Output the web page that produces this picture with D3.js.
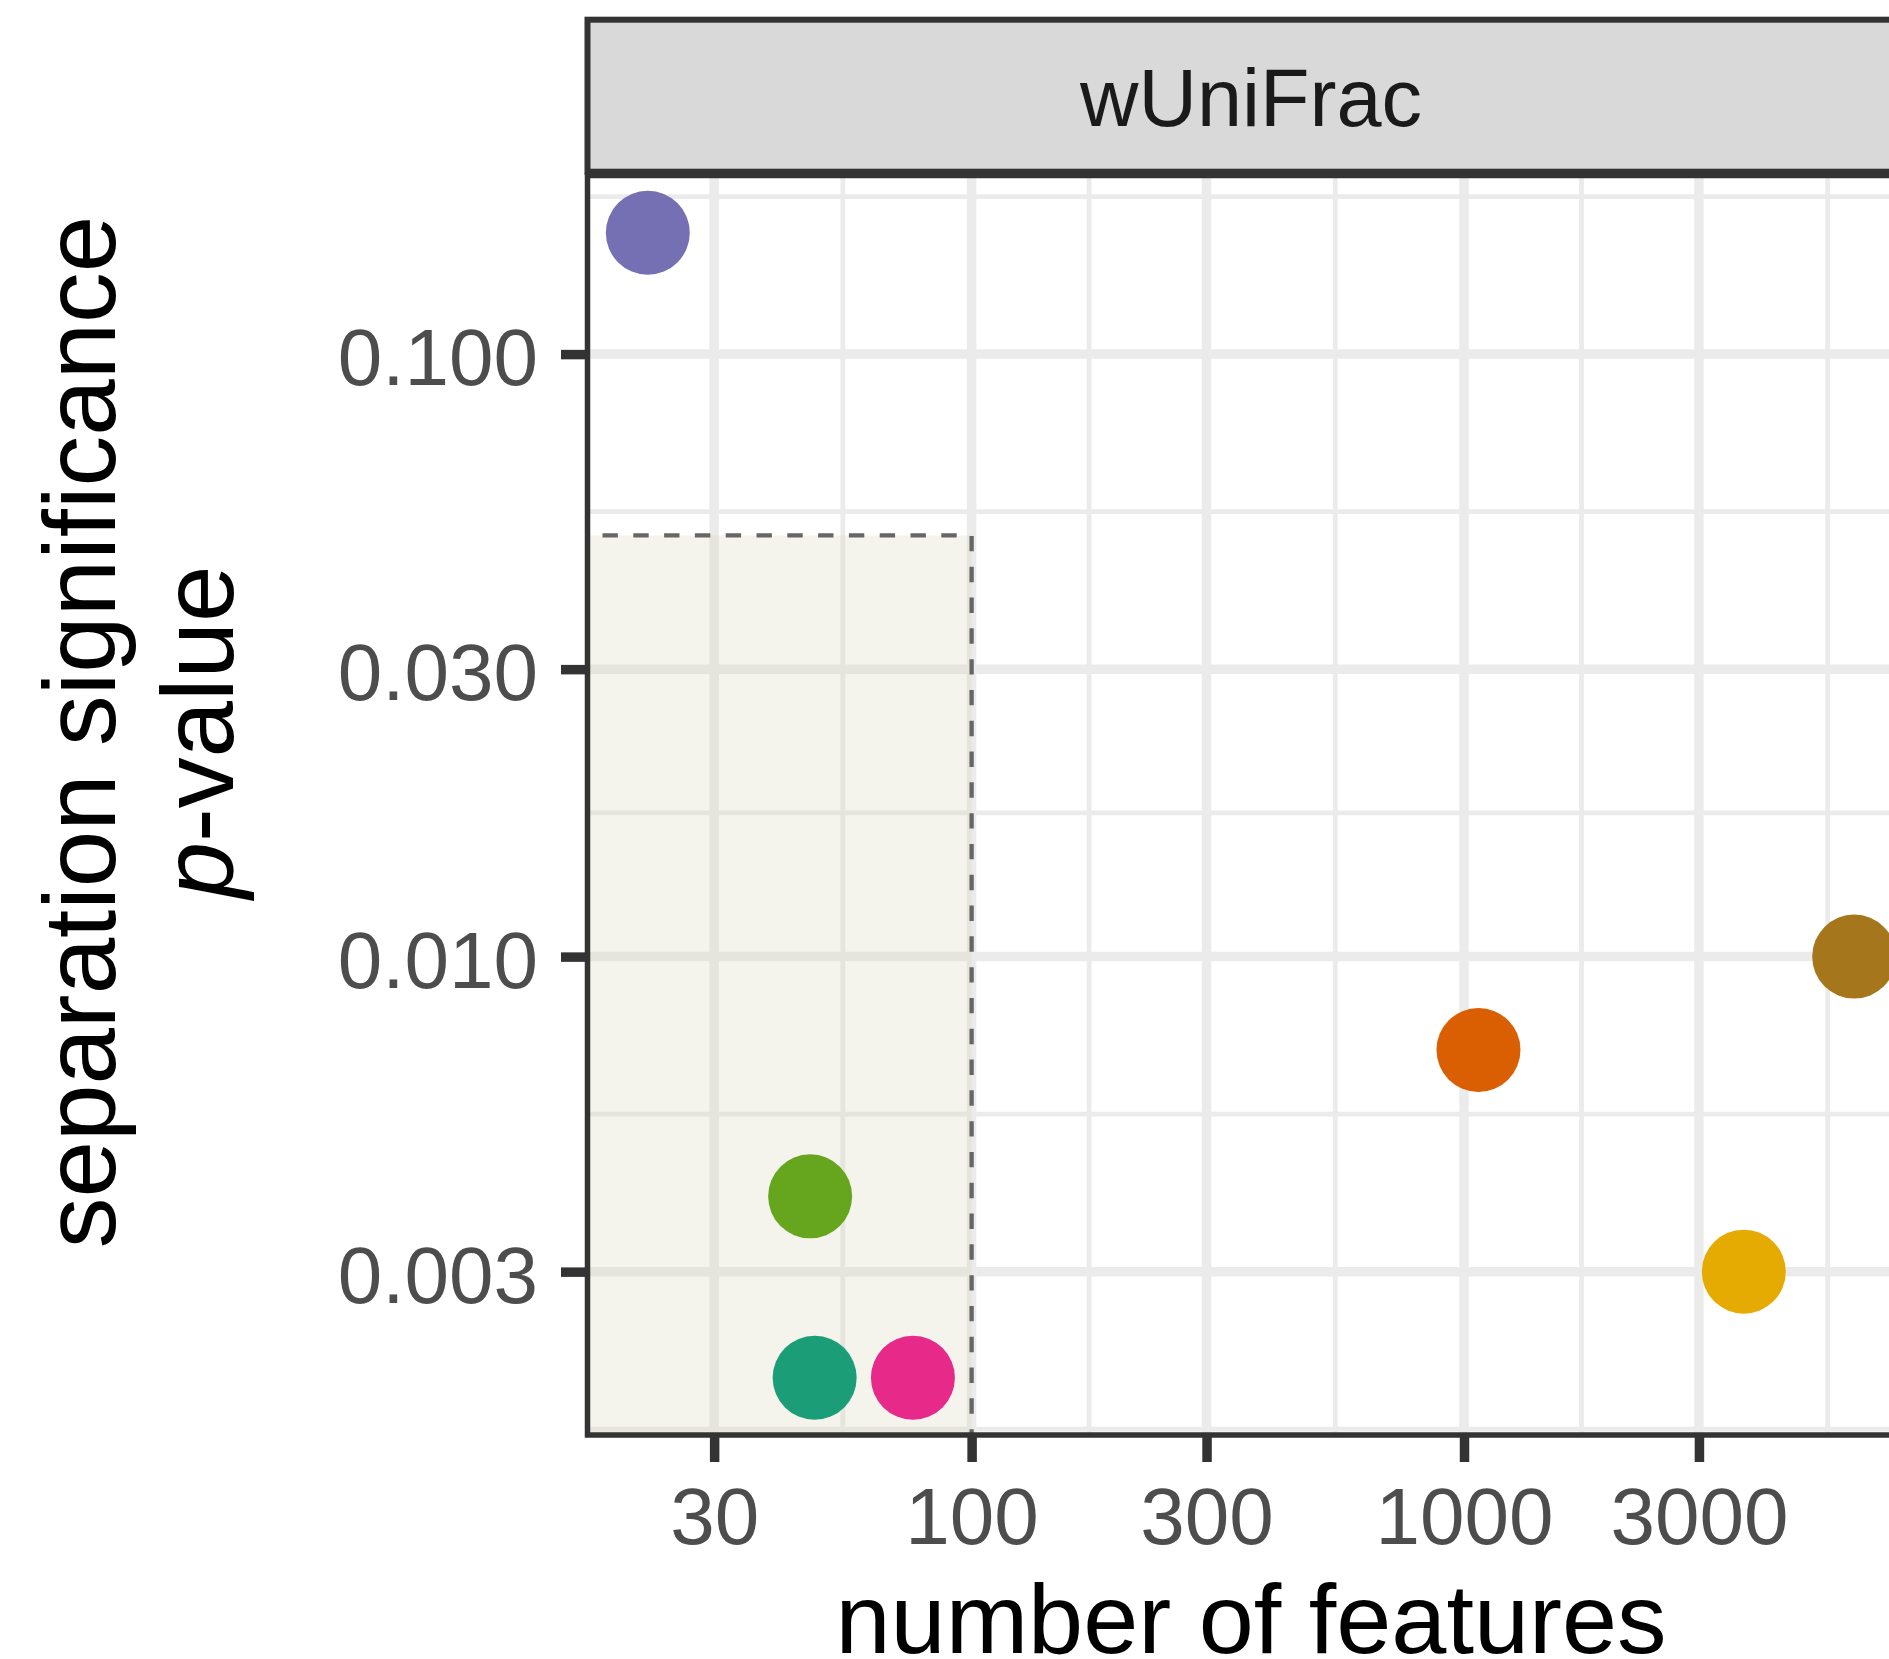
<!DOCTYPE html>
<html>
<head>
<meta charset="utf-8">
<script src="https://cdn.jsdelivr.net/npm/d3@7"></script>
<style>
  body { margin: 0; background: #ffffff; }
  svg { display: block; }
  text { font-family: "Liberation Sans", Arial, Helvetica, sans-serif; }
</style>
</head>
<body>
<svg id="chart" width="1889" height="1659"></svg>
<script>
// ---- data -------------------------------------------------------------
const groups    = ["g3", "g5", "g1", "g4", "g2", "g6", "g7"];
const features  = [22, 47, 48, 76, 1070, 3700, 6200];
const pvalues   = [0.159, 0.004, 0.002, 0.002, 0.007, 0.003, 0.01];
const colours   = ["#7570b3", "#66a61e", "#1b9e77", "#e7298a", "#d95f02", "#e6ab02", "#a6761d"];

const xTicks      = [30, 100, 300, 1000, 3000];
const xTickLabels = ["30", "100", "300", "1000", "3000"];
const yTicks      = [0.1, 0.03, 0.01, 0.003];
const yTickLabels = ["0.100", "0.030", "0.010", "0.003"];

const featureCut = 100;   // highlighted region: fewer features than this
const pCut       = 0.05;  // ...and p below this

const facetLabel = "wUniFrac";
const xTitle = "number of features";
const yTitle1 = "separation significance";
const yTitle2Italic = "p";
const yTitle2Rest = "-value";

// ---- layout -----------------------------------------------------------
const panel = { left: 587.5, right: 1914.5, top: 175.5, bottom: 1435 };
const stripTop = 19.7;
const stripBottom = 171.7;

const svg = d3.select("#chart");

// log-space 5% expansion, as a ggplot continuous scale does
function expandLog(ext, mult = 0.05) {
  const a = Math.log10(ext[0]), b = Math.log10(ext[1]);
  const pad = (b - a) * mult;
  return [Math.pow(10, a - pad), Math.pow(10, b + pad)];
}

const x = d3.scaleLog().domain(expandLog(d3.extent(features))).range([panel.left, panel.right]);
const y = d3.scaleLog().domain(expandLog(d3.extent(pvalues))).range([panel.bottom, panel.top]);

// minor breaks halfway (in log space) between majors, extended one step past the ends
function minorBreaks(majors, scale) {
  const b = majors.map(Math.log10).sort((p, q) => p - q);
  const d = b[1] - b[0];
  const lim = scale.domain().map(Math.log10);
  const ext = b.slice();
  if (lim[0] < b[0]) ext.unshift(b[0] - d);
  if (lim[1] > b[b.length - 1]) ext.push(b[b.length - 1] + d);
  const out = [];
  for (let i = 0; i < ext.length - 1; i++) out.push((ext[i] + ext[i + 1]) / 2);
  return out.map(v => Math.pow(10, v)).filter(v => v > scale.domain()[0] && v < scale.domain()[1]);
}

// ---- strip ------------------------------------------------------------
svg.append("rect")
  .attr("x", panel.left).attr("y", stripTop)
  .attr("width", panel.right - panel.left).attr("height", stripBottom - stripTop)
  .attr("fill", "#d9d9d9").attr("stroke", "#333333").attr("stroke-width", 6);

svg.append("text")
  .attr("x", (panel.left + panel.right) / 2).attr("y", 126)
  .attr("text-anchor", "middle").attr("font-size", 81).attr("fill", "#1a1a1a")
  .text(facetLabel);

// ---- panel ------------------------------------------------------------
svg.append("clipPath").attr("id", "panel-clip")
  .append("rect")
  .attr("x", panel.left).attr("y", panel.top)
  .attr("width", panel.right - panel.left).attr("height", panel.bottom - panel.top);

const plot = svg.append("g").attr("clip-path", "url(#panel-clip)");

plot.append("rect")
  .attr("x", panel.left).attr("y", panel.top)
  .attr("width", panel.right - panel.left).attr("height", panel.bottom - panel.top)
  .attr("fill", "#ffffff");

const grid = plot.append("g").attr("stroke", "#ebebeb");
grid.selectAll(".xminor").data(minorBreaks(xTicks, x)).join("line")
  .attr("x1", d => x(d)).attr("x2", d => x(d))
  .attr("y1", panel.top).attr("y2", panel.bottom).attr("stroke-width", 4.8);
grid.selectAll(".yminor").data(minorBreaks(yTicks, y)).join("line")
  .attr("y1", d => y(d)).attr("y2", d => y(d))
  .attr("x1", panel.left).attr("x2", panel.right).attr("stroke-width", 4.8);
grid.selectAll(".xmajor").data(xTicks).join("line")
  .attr("x1", d => x(d)).attr("x2", d => x(d))
  .attr("y1", panel.top).attr("y2", panel.bottom).attr("stroke-width", 9.5);
grid.selectAll(".ymajor").data(yTicks).join("line")
  .attr("y1", d => y(d)).attr("y2", d => y(d))
  .attr("x1", panel.left).attr("x2", panel.right).attr("stroke-width", 9.5);

// highlighted region: below the p cut-off and below the feature cut-off
plot.append("rect")
  .attr("x", panel.left).attr("y", y(pCut))
  .attr("width", x(featureCut) - panel.left).attr("height", panel.bottom - y(pCut))
  .attr("fill", "rgb(210,206,175)").attr("fill-opacity", 0.24);

plot.append("path")
  .attr("d", `M${panel.left},${y(pCut)}H${x(featureCut)}V${panel.bottom}`)
  .attr("fill", "none").attr("stroke", "#666666").attr("stroke-width", 4.3)
  .attr("stroke-dasharray", "15.4,15.4").attr("stroke-dashoffset", 15.8);

// points
plot.selectAll(".pt").data(features.map((f, i) => ({ f, p: pvalues[i], c: colours[i], g: groups[i] })))
  .join("circle")
  .attr("cx", d => x(d.f)).attr("cy", d => y(d.p)).attr("r", 42)
  .attr("fill", d => d.c);

// panel border
svg.append("rect")
  .attr("x", panel.left).attr("y", panel.top)
  .attr("width", panel.right - panel.left).attr("height", panel.bottom - panel.top)
  .attr("fill", "none").attr("stroke", "#333333").attr("stroke-width", 5.5);

// ---- axes -------------------------------------------------------------
const xAxis = d3.axisBottom(x).tickValues(xTicks).tickFormat((d, i) => xTickLabels[i])
  .tickSize(27).tickPadding(25.5);
const gx = svg.append("g").attr("transform", `translate(0,${panel.bottom})`).call(xAxis);

const yAxis = d3.axisLeft(y).tickValues(yTicks).tickFormat((d, i) => yTickLabels[i])
  .tickSize(26.5).tickPadding(23);
const gy = svg.append("g").attr("transform", `translate(${panel.left},0)`).call(yAxis);

[gx, gy].forEach(g => {
  g.select(".domain").remove();
  g.selectAll(".tick line").attr("stroke", "#333333").attr("stroke-width", 9.5);
  g.selectAll(".tick text").attr("fill", "#4d4d4d").attr("font-size", 80)
    .attr("font-family", "'Liberation Sans', Arial, Helvetica, sans-serif");
});
gy.selectAll(".tick text").attr("dy", "0.385em");

// ---- titles -----------------------------------------------------------
svg.append("text")
  .attr("x", (panel.left + panel.right) / 2).attr("y", 1653)
  .attr("text-anchor", "middle").attr("font-size", 99).attr("fill", "#000000")
  .text(xTitle);

const yt = svg.append("g").attr("transform", "translate(0,732) rotate(-90)");
yt.append("text")
  .attr("x", 0).attr("y", 114.6)
  .attr("text-anchor", "middle").attr("font-size", 101.5).attr("fill", "#000000")
  .text(yTitle1);
const yt2 = yt.append("text")
  .attr("x", 0).attr("y", 233)
  .attr("text-anchor", "middle").attr("font-size", 101.5).attr("fill", "#000000");
yt2.append("tspan").attr("font-style", "italic").text(yTitle2Italic);
yt2.append("tspan").text(yTitle2Rest);
</script>
</body>
</html>
